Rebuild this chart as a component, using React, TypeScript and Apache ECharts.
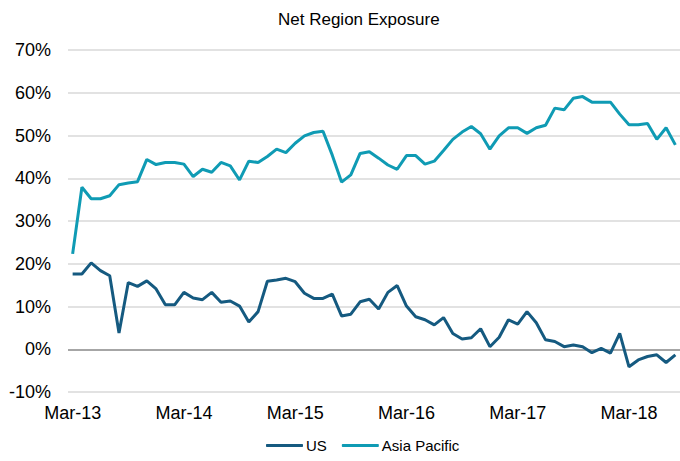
import React, { useEffect, useRef } from "react";
import * as echarts from "echarts";

const months = [
  "Mar-13","Apr-13","May-13","Jun-13","Jul-13","Aug-13","Sep-13","Oct-13","Nov-13","Dec-13","Jan-14","Feb-14",
  "Mar-14","Apr-14","May-14","Jun-14","Jul-14","Aug-14","Sep-14","Oct-14","Nov-14","Dec-14","Jan-15","Feb-15",
  "Mar-15","Apr-15","May-15","Jun-15","Jul-15","Aug-15","Sep-15","Oct-15","Nov-15","Dec-15","Jan-16","Feb-16",
  "Mar-16","Apr-16","May-16","Jun-16","Jul-16","Aug-16","Sep-16","Oct-16","Nov-16","Dec-16","Jan-17","Feb-17",
  "Mar-17","Apr-17","May-17","Jun-17","Jul-17","Aug-17","Sep-17","Oct-17","Nov-17","Dec-17","Jan-18","Feb-18",
  "Mar-18","Apr-18","May-18","Jun-18","Jul-18","Aug-18",
];

const usValues = [
  17.6, 17.6, 20.2, 18.4, 17.2, 3.8, 15.6, 14.7, 16.0, 14.1, 10.4, 10.4,
  13.3, 12.0, 11.6, 13.3, 11.0, 11.3, 10.1, 6.4, 8.8, 15.9, 16.2, 16.6,
  15.8, 13.1, 11.9, 11.9, 12.9, 7.8, 8.2, 11.1, 11.7, 9.4, 13.3, 14.9,
  10.1, 7.6, 6.9, 5.7, 7.4, 3.7, 2.4, 2.7, 4.8, 0.6, 2.8, 6.9,
  5.9, 8.8, 6.2, 2.2, 1.8, 0.6, 1.0, 0.6, -0.8, 0.2, -0.9, 3.7,
  -4.1, -2.5, -1.7, -1.3, -3.1, -1.3,
];

const apValues = [
  22.3, 37.9, 35.2, 35.2, 35.9, 38.5, 38.9, 39.2, 44.4, 43.2, 43.7, 43.7,
  43.3, 40.4, 42.1, 41.4, 43.7, 42.9, 39.6, 44.0, 43.7, 45.1, 46.8, 46.0,
  48.2, 49.9, 50.7, 51.0, 45.4, 39.1, 40.8, 45.8, 46.2, 44.7, 43.1, 42.1,
  45.3, 45.3, 43.3, 44.0, 46.5, 49.1, 50.8, 52.1, 50.4, 46.8, 49.9, 51.8,
  51.8, 50.5, 51.8, 52.4, 56.4, 56.0, 58.7, 59.1, 57.8, 57.8, 57.8, 55.0,
  52.5, 52.5, 52.8, 49.1, 51.8, 47.8,
];

const seriesNames = ["US", "Asia Pacific"];
const seriesColors = ["#155a80", "#0f9bb4"];

const FONT = "'Liberation Sans', Arial, sans-serif";

export default function App() {
  const ref = useRef<HTMLDivElement>(null);

  useEffect(() => {
    document.body.style.margin = "0";
    if (!ref.current) return;
    const chart = echarts.init(ref.current, null, { renderer: "svg" });
    chart.setOption({
      animation: false,
      backgroundColor: "#ffffff",
      textStyle: { fontFamily: FONT },
      title: {
        text: "Net Region Exposure",
        left: 273,
        top: 6,
        textStyle: { fontFamily: FONT, fontSize: 17, fontWeight: "normal", color: "#000000" },
      },
      legend: {
        bottom: 3,
        left: 261,
        itemWidth: 37,
        itemHeight: 3,
        itemGap: 15,
        icon: "roundRect",
        textStyle: { fontFamily: FONT, fontSize: 15, color: "#000000", padding: [0, 0, 0, -2] },
        data: seriesNames,
      },
      grid: { left: 68, top: 50, width: 616, height: 342, containLabel: false },
      xAxis: {
        type: "category",
        data: months,
        boundaryGap: true,
        axisLine: { show: false },
        axisTick: { show: false },
        axisLabel: {
          interval: 11,
          margin: 12,
          fontSize: 18,
          fontFamily: FONT,
          color: "#000000",
        },
        splitLine: { show: false },
      },
      yAxis: {
        type: "value",
        min: -10,
        max: 70,
        interval: 10,
        axisLine: { show: false },
        axisTick: { show: false },
        axisLabel: {
          formatter: "{value}%",
          fontSize: 18,
          fontFamily: FONT,
          color: "#000000",
          margin: 17,
        },
        splitLine: { show: true, lineStyle: { color: "#d9d9d9", width: 1.5 } },
      },
      series: [
        {
          name: seriesNames[0],
          type: "line",
          data: usValues,
          symbol: "none",
          color: seriesColors[0],
          lineStyle: { width: 3, color: seriesColors[0] },
          z: 3,
          markLine: {
            silent: true,
            symbol: "none",
            label: { show: false },
            lineStyle: { color: "#a6a6a6", width: 2, type: "solid" },
            data: [{ yAxis: 0 }],
            z: 1,
          },
        },
        {
          name: seriesNames[1],
          type: "line",
          data: apValues,
          symbol: "none",
          color: seriesColors[1],
          lineStyle: { width: 3, color: seriesColors[1] },
          z: 3,
        },
      ],
    });
    return () => chart.dispose();
  }, []);

  return (
    <div
      ref={ref}
      style={{ position: "absolute", left: 0, top: 0, width: 680, height: 461 }}
    />
  );
}
